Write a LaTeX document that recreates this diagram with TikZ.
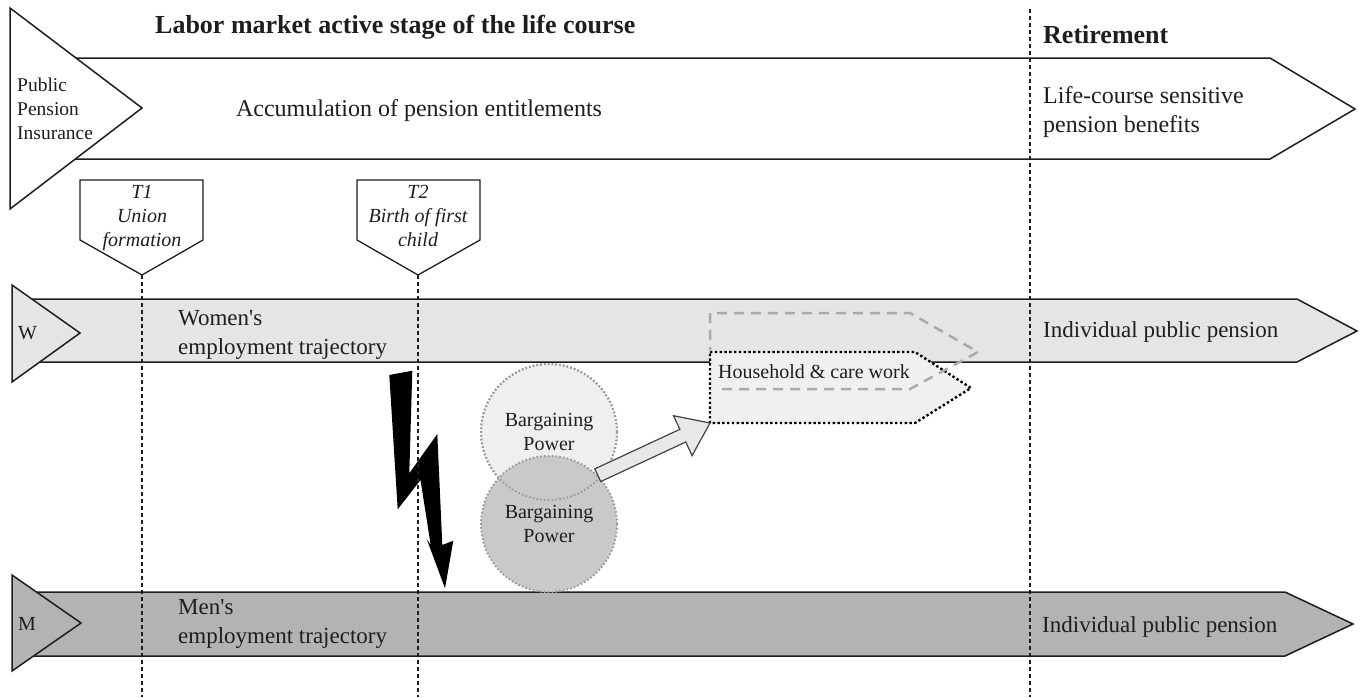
\documentclass[tikz,border=0pt]{standalone}
\usepackage{fontspec}
\setmainfont{Liberation Serif}
\usetikzlibrary{calc}
\definecolor{ink}{HTML}{1E1E1E}
\definecolor{bandW}{HTML}{E5E5E5}
\definecolor{bandM}{HTML}{B3B3B3}
\definecolor{hhfill}{HTML}{F0F0F0}
\definecolor{dashgray}{HTML}{AAAAAA}
\definecolor{cirU}{HTML}{EFEFEF}
\definecolor{cirL}{HTML}{C9C9C9}
\definecolor{cirB}{HTML}{9A9A9A}
\definecolor{arrowfill}{HTML}{E8E8E8}
\definecolor{arrowline}{HTML}{444444}
\begin{document}
\begin{tikzpicture}[x=1pt,y=-1pt,
  outl/.style={draw=ink, line width=1.5pt, line join=miter},
  vdash/.style={draw=ink, line width=1.6pt, dash pattern=on 4pt off 3pt},
  txt/.style={inner sep=0pt, text=ink},
  cirline/.style={draw=cirB, line width=2pt, dash pattern=on 1.6pt off 2.2pt},
  bigtxt/.style={txt, font=\fontsize{24}{29}\selectfont},
  midtxt/.style={txt, font=\fontsize{23}{29}\selectfont},
  smalltxt/.style={txt, font=\fontsize{20}{24.5}\selectfont}
]
\useasboundingbox (0,0) rectangle (1363,697);

% top band: public pension insurance
\path[outl, fill=white] (40,58) -- (1270,58) -- (1355,109) -- (1270,159) -- (40,159) -- cycle;
\path[outl, fill=white] (10,8) -- (142,108) -- (10,209) -- cycle;

% women's band
\path[outl, fill=bandW] (20,299) -- (1297,299) -- (1357,331) -- (1297,362) -- (20,362) -- cycle;
\path[outl, fill=bandW] (12,285) -- (80,333) -- (12,382) -- cycle;

% men's band
\path[outl, fill=bandM] (25,592) -- (1285,592) -- (1353,624) -- (1285,656) -- (25,656) -- cycle;
\path[outl, fill=bandM] (12,575) -- (81,623) -- (12,671) -- cycle;

% event markers
\path[outl, line width=1.3pt, fill=white] (80,180) -- (203,180) -- (203,240) -- (142,275) coordinate (t1p) -- (80,240) -- cycle;
\path[outl, line width=1.3pt, fill=white] (357,180) -- (480,180) -- (480,240) -- (418,275) coordinate (t2p) -- (357,240) -- cycle;

% lightning bolt
\fill[black] (389.3,375) -- (412.3,370.7) -- (409.3,473.3) -- (437.3,434) -- (442.3,545)
  -- (453.3,540.7) -- (445,588.3) -- (426.7,539) -- (430.7,545) -- (420.5,480)
  -- (397.7,509.3) -- cycle;

% bargaining power circles
\node[circle, minimum size=136pt, inner sep=0pt, fill=cirU, cirline, align=center,
  text=ink, font=\fontsize{20}{24.5}\selectfont] (bpu) at (549,432) {Bargaining\\Power};
\node[circle, minimum size=136pt, inner sep=0pt, fill=cirL, cirline, align=center,
  text=ink, font=\fontsize{20}{24.5}\selectfont] (bpl) at (549,524) {Bargaining\\Power};
\draw[cirline] (bpu.center) circle[radius=68];

% household & care work
\path[draw=black, line width=2.4pt, dash pattern=on 2.4pt off 2.4pt, fill=hhfill]
  (710,352) coordinate (hhnw) -- (915,352) -- (971,388) -- (915,423) -- (710,423) coordinate (hhsw) -- cycle;
\path[draw=dashgray, line width=2.5pt, dash pattern=on 10pt off 7pt]
  (722,389) -- (910,389) -- (978,352) -- (910,313) -- (710,313) -- (710,350);
\node[txt, font=\fontsize{20}{24}\selectfont, anchor=west] (hh) at (718,372) {Household \& care work};

% block arrow from bargaining power to household work
\coordinate (as) at (bpl.45);
\coordinate (ahb) at ($(hhsw)!30pt!(as)$);
\path[draw=arrowline, line width=1.2pt, fill=arrowfill, line join=miter]
  ($(as)!7pt!90:(hhsw)$) -- ($(ahb)!7pt!90:(hhsw)$) -- ($(ahb)!22pt!90:(hhsw)$) -- (hhsw)
  -- ($(ahb)!22pt!-90:(hhsw)$) -- ($(ahb)!7pt!-90:(hhsw)$) -- ($(as)!7pt!-90:(hhsw)$) -- cycle;

% dashed time lines
\coordinate (t1b) at (142,697);
\coordinate (t2b) at (418,697);
\coordinate (rt) at (1030,9);
\coordinate (rb) at (1030,697);
\draw[vdash] (t1p) -- (t1b);
\draw[vdash] (t2p) -- (t2b);
\draw[vdash] (rt) -- (rb);

% texts
\node[txt, font=\fontsize{26}{30}\selectfont\bfseries, anchor=west] (title) at (155,27.5) {Labor market active stage of the life course};
\node[txt, font=\fontsize{26}{30}\selectfont\bfseries, anchor=west] (ret) at (1043,34.5) {Retirement};
\node[txt, font=\fontsize{19.5}{24}\selectfont, align=left, anchor=west] (ppi) at (17,109) {Public\\Pension\\Insurance};
\node[bigtxt, anchor=center] (acc) at (419,111) {Accumulation of pension entitlements};
\node[bigtxt, align=left, anchor=west] (lcs) at (1043,112) {Life-course sensitive\\pension benefits};

\node[txt, font=\fontsize{20}{24}\selectfont\itshape, align=center] (t1) at (142,218) {T1\\Union\\formation};
\node[txt, font=\fontsize{20}{24}\selectfont\itshape, align=center] (t2) at (418,216) {T2\\Birth of first\\child};

\node[smalltxt, anchor=west] (w) at (18,333) {W};
\node[midtxt, align=left, anchor=west] (wt) at (178,335) {Women\textquotesingle s\\employment trajectory};
\node[midtxt, anchor=west] (wp) at (1043,332) {Individual public pension};

\node[smalltxt, anchor=west] (m) at (18,624) {M};
\node[midtxt, align=left, anchor=west] (mt) at (178,624) {Men\textquotesingle s\\employment trajectory};
\node[midtxt, anchor=west] (mp) at (1042,627) {Individual public pension};
\end{tikzpicture}
\end{document}
